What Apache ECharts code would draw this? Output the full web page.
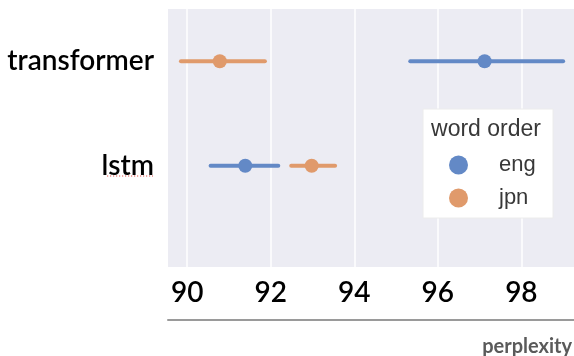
<!DOCTYPE html>
<html>
<head>
<meta charset="utf-8">
<script src="https://cdn.jsdelivr.net/npm/echarts@6/dist/echarts.min.js"></script>
<style>
  html, body { margin: 0; padding: 0; background: #ffffff; }
  #chart { width: 574px; height: 356px; }
</style>
</head>
<body>
<div id="chart"></div>
<script>
// Model names on the vertical axis (top to bottom)
const categories = ['transformer', 'lstm'];

// Perplexity: point estimate and confidence interval per model
const engMean = [97.12, 91.39];
const engLow  = [95.34, 90.56];
const engHigh = [99.00, 92.18];

const jpnMean = [90.78, 92.98];
const jpnLow  = [89.85, 92.49];
const jpnHigh = [91.86, 93.54];

const xTicks = [90, 92, 94, 96, 98];
const xMin = 89.54;
const xMax = 99.26;

const colorEng = '#6389c6';
const colorJpn = '#e09a6b';

function ciSeries(name, low, high, color) {
  return {
    type: 'custom',
    name: name,
    silent: true,
    z: 3,
    data: low.map((l, i) => [l, high[i], i]),
    encode: { x: [0, 1], y: 2 },
    renderItem: function (params, api) {
      const a = api.coord([api.value(0), api.value(2)]);
      const b = api.coord([api.value(1), api.value(2)]);
      return {
        type: 'line',
        shape: { x1: a[0], y1: a[1], x2: b[0], y2: b[1] },
        style: { stroke: color, lineWidth: 4, lineCap: 'round' }
      };
    }
  };
}

function pointSeries(name, mean, color) {
  return {
    type: 'scatter',
    name: name,
    z: 4,
    symbol: 'circle',
    symbolSize: 14,
    itemStyle: { color: color, opacity: 1 },
    data: mean.map((v, i) => [v, i])
  };
}

const chart = echarts.init(document.getElementById('chart'));
chart.setOption({
  animation: false,
  grid: {
    left: 168, right: 0, top: 9, bottom: 89,
    show: true, backgroundColor: '#ececf3', borderWidth: 0
  },
  xAxis: [{
    type: 'value',
    min: xMin, max: xMax,
    axisLine: { show: false },
    axisTick: { show: false, customValues: xTicks },
    splitLine: { show: true, lineStyle: { color: '#ffffff', width: 1.5 } },
    axisLabel: {
      customValues: xTicks,
      margin: 12,
      color: '#000000',
      fontFamily: 'Lato',
      fontWeight: 600,
      fontSize: 28
    }
  }, {
    type: 'value',
    min: xMin, max: xMax,
    position: 'bottom',
    offset: 53,
    axisLine: { show: true, lineStyle: { color: '#9a9a9a', width: 2 } },
    axisTick: { show: false },
    axisLabel: { show: false },
    splitLine: { show: false }
  }],
  yAxis: {
    type: 'value',
    inverse: true,
    min: -0.5, max: 1.97,
    axisLine: { show: false },
    axisTick: { show: false, customValues: [0, 1] },
    splitLine: { show: false },
    axisLabel: {
      customValues: [0, 1],
      formatter: v => categories[Math.round(v)] || '',
      margin: 14,
      color: '#000000',
      fontFamily: 'Lato',
      fontWeight: 600,
      fontSize: 28
    }
  },
  legend: {
    data: [{ name: 'eng', icon: 'circle' }, { name: 'jpn', icon: 'circle' }],
    orient: 'vertical',
    left: 449, top: 153,
    padding: 0,
    itemWidth: 19, itemHeight: 19,
    itemGap: 9,
    selectedMode: false,
    z: 20,
    textStyle: {
      color: '#383838',
      fontFamily: 'Liberation Sans',
      fontSize: 22,
      lineHeight: 24,
      padding: [0, 0, 0, 26]
    }
  },
  graphic: [
    {
      type: 'rect', z: 10,
      shape: { x: 423, y: 109, width: 130, height: 109 },
      style: { fill: '#ffffff', stroke: '#ececec', lineWidth: 1 }
    },
    {
      type: 'text', z: 11,
      x: 486, y: 130,
      style: {
        text: 'word order', fill: '#383838',
        font: '23px "Liberation Sans"',
        align: 'center', verticalAlign: 'middle'
      }
    },
    {
      type: 'line', z: 11,
      shape: { x1: 107, y1: 176, x2: 153, y2: 176 },
      style: { stroke: '#e0504a', lineWidth: 1.2, lineDash: [1.2, 1.8] }
    },
    {
      type: 'text', z: 11,
      x: 572, y: 347,
      style: {
        text: 'perplexity', fill: '#5a5a5a',
        font: 'bold 20px Lato',
        align: 'right', verticalAlign: 'middle'
      }
    }
  ],
  series: [
    ciSeries('eng ci', engLow, engHigh, colorEng),
    ciSeries('jpn ci', jpnLow, jpnHigh, colorJpn),
    pointSeries('eng', engMean, colorEng),
    pointSeries('jpn', jpnMean, colorJpn)
  ]
});
</script>
</body>
</html>
